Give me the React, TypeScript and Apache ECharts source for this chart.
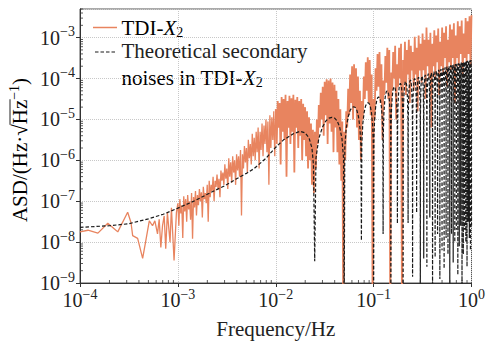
import React, { useEffect, useRef } from 'react';
import * as echarts from 'echarts';

const SERIF = "'Liberation Serif', 'Times New Roman', serif";
const ORANGE = '#E8845F';
const DARK = '#1a1a1a';

// ---------- TDI-X2 (log10 of frequency / ASD) ----------
// below 1e-3 Hz: explicit points
const tdiLowLogF = [-4.0, -3.919, -3.817, -3.716, -3.648, -3.614, -3.513, -3.479, -3.462, -3.411, -3.36, -3.327, -3.292,
  -3.259, -3.235, -3.208, -3.191, -3.174, -3.157, -3.14, -3.124, -3.107, -3.08, -3.066, -3.039, -3.015];
const tdiLowLogA = [-7.75, -7.71, -7.78, -7.54, -7.68, -7.75, -7.27, -7.52, -7.84, -7.91, -8.4, -7.96, -7.48,
  -7.6, -7.48, -7.8, -7.44, -8.13, -7.6, -7.36, -8.16, -7.28, -8.0, -7.16, -8.45, -7.28];
// 1e-3 .. 1e-2 Hz: upper excursions at -3.00, -2.98, ... lower at -2.99, -2.97, ...
const tdiMidStartLogF = -3;
const tdiMidStepLogF = 0.01;
const tdiMidUpperLogA = [
  -7.05, -6.95, -7.1, -6.88, -6.95, -6.85, -7.0, -6.8, -6.9, -6.75,
  -6.85, -6.7, -6.78, -6.65, -6.8, -6.6, -6.5, -6.6, -6.4, -6.5,
  -6.35, -6.45, -6.25, -6.3, -6.1, -6.2, -5.95, -6.05, -5.9, -6.0,
  -5.85, -5.9, -5.75, -5.85, -5.65, -5.7, -5.5, -5.6, -5.35, -5.45,
  -5.3, -5.2, -5.3, -5.1, -5.15, -5.0, -5.05, -4.9, -4.95, -4.8];
const tdiMidLowerLogA = [
  -7.6, -7.3, -7.9, -7.25, -7.5, -7.2, -7.45, -7.92, -7.15, -7.35,
  -7.1, -7.0, -7.4, -6.95, -7.05, -7.5, -6.9, -6.75, -7.0, -6.65,
  -6.7, -6.9, -6.5, -6.6, -6.45, -6.7, -6.4, -6.55, -6.3, -6.6,
  -6.25, -6.4, -7.35, -6.2, -6.05, -6.3, -5.95, -6.1, -5.9, -6.0,
  -5.8, -6.2, -5.75, -5.9, -5.6, -5.8, -6.6, -5.7, -5.5, -5.9];
// 1e-2 .. 1 Hz: upper excursions at -2.00, -1.98, ... and lower excursions at -1.99, -1.97, ...
const tdiHighStartLogF = -2;
const tdiHighStepLogF = 0.01;
const tdiUpperLogA = [
  -4.75, -4.55, -4.6, -4.45, -4.5, -4.4, -4.55, -4.42, -4.48, -4.4,
  -4.52, -4.45, -4.55, -4.5, -4.62, -4.7, -4.8, -4.95, -5.1, -5.25,
  -5.3, -5.0, -4.65, -4.35, -4.2, -4.08, -4.02, -4.05, -4.0, -4.1,
  -4.15, -4.3, -4.5, -4.75, -5.05, -5.3, -4.8, -4.25, -3.9, -3.7,
  -3.65, -3.75, -3.95, -4.3, -4.55, -3.95, -3.6, -3.48, -3.55, -3.9,
  -4.5, -3.75, -3.4, -3.35, -3.65, -4.05, -3.45, -3.25, -3.3, -3.85,
  -3.35, -3.2, -3.65, -3.25, -3.15, -3.55, -3.1, -3.3, -3.05, -3.2,
  -3.35, -2.98, -3.25, -2.95, -3.15, -2.9, -3.05, -2.75, -3.05, -2.88,
  -3.15, -2.82, -2.95, -2.78, -3.1, -2.75, -2.88, -2.72, -3.05, -2.68,
  -2.8, -2.65, -2.95, -2.6, -2.72, -2.58, -2.9, -2.52, -2.6, -2.48,
  -2.45];
const tdiLowerLogA = [
  -5.6, -5.2, -6.1, -5.3, -5.5, -6.4, -5.2, -5.6, -5.3, -6.3,
  -5.2, -5.7, -5.4, -6.0, -5.5, -5.9, -6.2, -6.0, -6.6, -6.8,
  -6.2, -5.6, -5.2, -5.0, -5.4, -4.9, -5.6, -5.1, -5.3, -5.8,
  -5.2, -5.8, -6.1, -6.5, -9.9, -6.0, -5.2, -4.9, -4.6, -5.0,
  -4.7, -5.2, -5.5, -6.0, -5.0, -4.5, -4.3, -4.6, -4.9, -9.9,
  -5.0, -4.3, -4.2, -4.6, -5.5, -4.4, -4.1, -4.5, -9.9, -4.3,
  -4.0, -5.0, -4.2, -4.0, -9.9, -4.1, -4.4, -3.9, -4.6, -3.8,
  -4.3, -3.9, -4.8, -3.8, -4.1, -3.8, -4.5, -3.7, -4.0, -5.2,
  -3.7, -4.0, -3.6, -4.4, -3.7, -3.9, -3.5, -4.2, -3.6, -3.8,
  -3.5, -4.6, -3.5, -3.7, -3.4, -3.9, -3.5, -3.6, -3.4, -3.7];

// ---------- Theoretical secondary noises ----------
const theoryLowLogF = [-4.0, -3.7, -3.5, -3.3, -3.15, -3.0, -2.82, -2.7, -2.52, -2.4, -2.3, -2.22, -2.1,
  -2.0, -1.92, -1.82, -1.75, -1.7, -1.66, -1.63, -1.615];
const theoryLowLogA = [-7.64, -7.6, -7.55, -7.43, -7.32, -7.17, -6.98, -6.83, -6.62, -6.45, -6.32, -6.2, -5.95,
  -5.68, -5.5, -5.35, -5.29, -5.33, -5.45, -5.7, -6.1];
const nullSpacingHz = 0.025;
const nullDepthLogA = [
  -8.47, -9.9, -7.96, -9.9, -7.8, -9.9, -7.55, -9.9, -7.53, -8.85,
  -7.28, -9.9, -8.4, -8.6, -7.4, -9.9, -8.37, -7.8, -8.9, -8.2,
  -8.65, -7.9, -8.3, -9.9, -7.8, -8.5, -8.0, -7.7, -8.8, -8.1,
  -7.6, -9.9, -8.3, -7.7, -8.0, -8.6, -7.5, -7.9, -8.2, -7.6];
const lobePeakLogA = [
  -4.95, -4.69, -4.59, -4.45, -4.3, -4.2, -4.12, -4.07, -4.04, -4.0,
  -3.97, -3.94, -3.91, -3.88, -3.86, -3.83, -3.81, -3.79, -3.77, -3.75,
  -3.73, -3.71, -3.7, -3.68, -3.67, -3.66, -3.65, -3.64, -3.63, -3.62,
  -3.61, -3.6, -3.59, -3.585, -3.58, -3.57, -3.565, -3.56, -3.55];
const lobeFrac = [0.03, 0.1, 0.2, 0.3, 0.4, 0.5, 0.6, 0.7, 0.8, 0.9, 0.97];
const lobeShapeLogA = [-1.0, -0.52, -0.24, -0.09, -0.02, 0, -0.02, -0.09, -0.24, -0.52, -1.0];

// ---------- axes ----------
const xMin = 1e-4;
const xMax = 1;
const yMin = 1e-9;
const yMaxLog = -2.3;
const xDecades = [-4, -3, -2, -1];
const yDecades = [-9, -8, -7, -6, -5, -4, -3];
const minorFactors = [2, 3, 4, 5, 6, 7, 8, 9];

const p10 = (v: number) => Math.pow(10, v);

function interleave(out: number[][], start: number, step: number, upper: number[], lower: number[]) {
  upper.forEach((la, j) => {
    out.push([p10(start + 2 * j * step), p10(la)]);
    if (j < lower.length) out.push([p10(start + (2 * j + 1) * step), p10(lower[j])]);
  });
}

function buildTdiSparse(): number[][] {
  const out: number[][] = [];
  tdiLowLogF.forEach((lf, i) => out.push([p10(lf), p10(tdiLowLogA[i])]));
  interleave(out, tdiMidStartLogF, tdiMidStepLogF, tdiMidUpperLogA, tdiMidLowerLogA);
  out.push([p10(tdiHighStartLogF), p10(tdiUpperLogA[0])]);
  return out;
}

function buildTdiDense(): number[][] {
  const out: number[][] = [];
  interleave(out, tdiHighStartLogF, tdiHighStepLogF, tdiUpperLogA, tdiLowerLogA);
  return out;
}

function buildTheory(): number[][] {
  const out: number[][] = [];
  theoryLowLogF.forEach((lf, i) => out.push([p10(lf), p10(theoryLowLogA[i])]));
  nullDepthLogA.forEach((d, i) => {
    const k = i + 1;
    out.push([k * nullSpacingHz, p10(d)]);
    if (k - 1 < lobePeakLogA.length) {
      const peak = lobePeakLogA[k - 1];
      lobeFrac.forEach((fr, m) => {
        out.push([(k + fr) * nullSpacingHz, p10(peak + lobeShapeLogA[m])]);
      });
    }
  });
  return out;
}

function expLabel(v: number): string {
  const e = Math.log10(v);
  const r = Math.round(e);
  if (Math.abs(e - r) > 1e-6) return '';
  const s = r < 0 ? '\u2212' + -r : String(r);
  return `{b|10}{s|${s}}`;
}

const labelRich = {
  b: { fontFamily: SERIF, fontSize: 20, color: '#222' },
  s: { fontFamily: SERIF, fontSize: 14, color: '#222', padding: [0, 0, 12, 0] },
};

function measure(text: string, size: number): number {
  const c = document.createElement('canvas').getContext('2d');
  if (!c) return text.length * size * 0.5;
  c.font = `${size}px ${SERIF}`;
  return c.measureText(text).width;
}

export default function App() {
  const ref = useRef<HTMLDivElement>(null);
  useEffect(() => {
    if (!ref.current) return;
    document.body.style.margin = '0';
    const chart = echarts.init(ref.current, undefined, { renderer: 'svg' });
    const yMax = p10(yMaxLog);

    const xMinor: number[][] = [];
    xDecades.forEach((d) => minorFactors.forEach((m) => xMinor.push([m * p10(d), yMin])));
    const yMinor: number[][] = [];
    yDecades.forEach((d) => minorFactors.forEach((m) => {
      const v = m * p10(d);
      if (v < yMax) yMinor.push([xMin, v]);
    }));

    // y-axis title pieces
    const prefix = 'ASD/(Hz\u00b7\u221a';
    const wPrefix = measure(prefix, 21);
    const wHz = measure('Hz', 21);
    const wSup = measure('\u22121', 14);
    const wClose = measure(')', 21);
    const total = wPrefix + wHz + wSup + wClose;
    const ox = -total / 2 + wPrefix;

    const subRich = {
      n: { fontFamily: SERIF, fontSize: 21, color: '#222' },
      i: { fontFamily: SERIF, fontSize: 21, color: '#222', fontStyle: 'italic' },
      u: { fontFamily: SERIF, fontSize: 14, color: '#222', padding: [9, 0, 0, 0] },
    };

    chart.setOption({
      animation: false,
      backgroundColor: '#fff',
      grid: { left: 80, top: 9, width: 394, height: 279, show: true, borderColor: '#555', borderWidth: 1, backgroundColor: 'transparent' },
      xAxis: {
        type: 'log', logBase: 10, min: xMin, max: xMax,
        name: 'Frequency/Hz', nameLocation: 'middle', nameGap: 35,
        nameTextStyle: { fontFamily: SERIF, fontSize: 21, color: '#222' },
        axisLine: { lineStyle: { color: '#333', width: 1 } },
        axisTick: { show: true, inside: false, length: 4, lineStyle: { color: '#333' } },
        splitLine: { show: true, lineStyle: { color: '#c8c8c8', type: 'dotted', width: 1 } },
        axisLabel: { formatter: expLabel, rich: labelRich, margin: 4, showMinLabel: true, showMaxLabel: true },
      },
      yAxis: {
        type: 'log', logBase: 10, min: yMin, max: yMax,
        axisLine: { show: true, lineStyle: { color: '#333', width: 1 } },
        axisTick: { show: true, inside: false, length: 4, lineStyle: { color: '#333' } },
        splitLine: { show: true, lineStyle: { color: '#c8c8c8', type: 'dotted', width: 1 } },
        axisLabel: { formatter: expLabel, rich: labelRich, margin: 5, showMinLabel: true, showMaxLabel: false },
      },
      series: [
        {
          name: 'TDI-X2', type: 'line', data: buildTdiSparse(), showSymbol: false, symbol: 'none',
          lineStyle: { color: ORANGE, width: 1.3 }, clip: true, z: 2, silent: true,
        },
        {
          name: 'TDI-X2 dense', type: 'line', data: buildTdiDense(), showSymbol: false, symbol: 'none',
          lineStyle: { color: ORANGE, width: 1.8 }, clip: true, z: 2, silent: true,
        },
        {
          name: 'Theoretical', type: 'line', data: buildTheory(), showSymbol: false, symbol: 'none',
          lineStyle: { color: DARK, width: 1.2, type: [3.5, 2] }, clip: true, z: 3, silent: true,
        },
        {
          type: 'scatter', data: xMinor, symbol: 'rect', symbolSize: [1, 3], symbolOffset: [0, -1.5],
          itemStyle: { color: '#333' }, silent: true, z: 5, clip: false,
        },
        {
          type: 'scatter', data: yMinor, symbol: 'rect', symbolSize: [3, 1], symbolOffset: [1.5, 0],
          itemStyle: { color: '#333' }, silent: true, z: 5, clip: false,
        },
      ],
      graphic: [
        {
          type: 'group', x: 20, y: 150, rotation: Math.PI / 2,
          children: [
            {
              type: 'text', x: 0, y: 0,
              style: {
                text: '{a|ASD/(Hz\u00b7\u221aHz}{s|\u22121}{a|)}',
                align: 'center', verticalAlign: 'middle',
                rich: {
                  a: { fontFamily: SERIF, fontSize: 21, color: '#222' },
                  s: { fontFamily: SERIF, fontSize: 14, color: '#222', padding: [0, 0, 12, 0] },
                },
              },
            },
            {
              type: 'line',
              shape: { x1: ox - 0.5, y1: -10, x2: ox + wHz + 0.5, y2: -10 },
              style: { stroke: '#222', lineWidth: 1 },
            },
          ],
        },
        {
          type: 'line', shape: { x1: 93, y1: 27.5, x2: 117, y2: 27.5 },
          style: { stroke: ORANGE, lineWidth: 1.5 },
        },
        {
          type: 'text', x: 121.5, y: 28,
          style: { text: '{n|TDI-}{i|X}{u|2}', verticalAlign: 'middle', align: 'left', rich: subRich },
        },
        {
          type: 'line', shape: { x1: 95, y1: 52, x2: 117, y2: 52 },
          style: { stroke: DARK, lineWidth: 1.2, lineDash: [3.5, 2] },
        },
        {
          type: 'text', x: 121.5, y: 51,
          style: { text: 'Theoretical secondary', verticalAlign: 'middle', align: 'left', fontFamily: SERIF, fontSize: 21, fill: '#222' },
        },
        {
          type: 'text', x: 121.5, y: 78,
          style: { text: '{n|noises in TDI-}{i|X}{u|2}', verticalAlign: 'middle', align: 'left', rich: subRich },
        },
      ],
    });
    return () => chart.dispose();
  }, []);
  return <div ref={ref} style={{ width: 488, height: 344 }} />;
}
